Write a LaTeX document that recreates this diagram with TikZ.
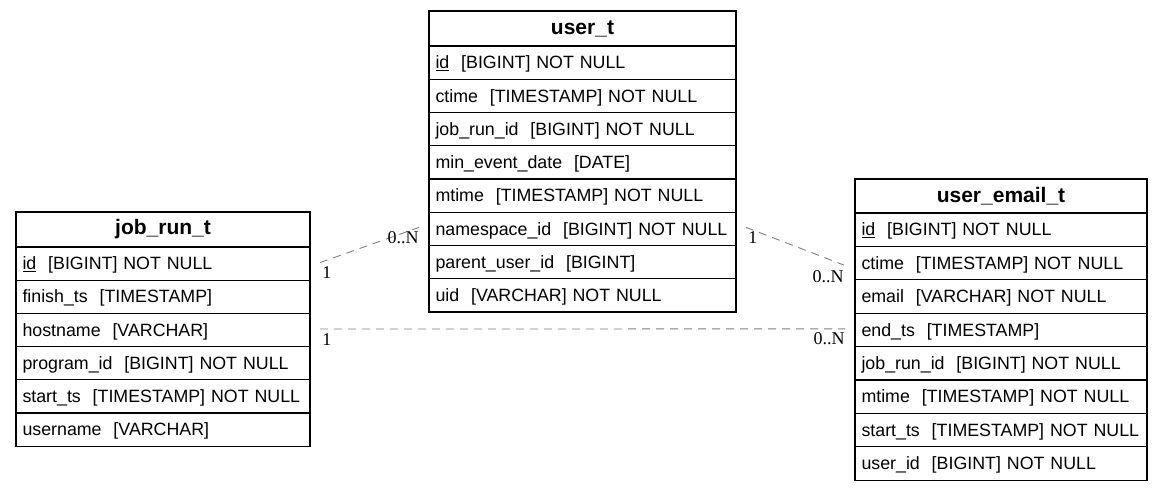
\documentclass[tikz,border=0pt]{standalone}
\usepackage{fontspec}
\setmainfont{Liberation Sans}
\newfontfamily\labfont{Liberation Serif}
\begin{document}
\begin{tikzpicture}[x=1pt,y=-1pt,
  cellbase/.style={draw, line width=1.2pt, anchor=north west, outer sep=0pt,
    inner xsep=6.5pt, inner ysep=0pt, text height=14.5pt, text depth=2.2pt,
    font=\fontsize{17.8}{20}\selectfont},
  headbase/.style={draw, line width=1.2pt, anchor=north west, outer sep=0pt,
    inner xsep=6.5pt, inner ysep=0pt, align=center,
    font=\fontsize{21}{22}\selectfont\bfseries},
  ucell/.style={cellbase, text width=294pt, align=left, minimum height=33.25pt},
  uhead/.style={headbase, text width=294pt, minimum height=35pt},
  jcell/.style={cellbase, text width=281pt, align=left, minimum height=33.2pt},
  jhead/.style={headbase, text width=281pt, minimum height=35pt},
  ecell/.style={cellbase, text width=279pt, align=left, minimum height=33.4pt},
  ehead/.style={headbase, text width=279pt, minimum height=34pt},
  rel/.style={draw=black!50, line width=0.9pt, dash pattern=on 8pt off 6pt},
  lab/.style={font=\labfont\fontsize{18}{19}\selectfont, inner sep=0pt, text=black}
]
\useasboundingbox (0,0) rectangle (1165,491);

% user_t
\node[uhead] (u-h) at (429,11) {user\_t};
\node[ucell] (u-id) at (429,46) {\underline{id}\ \ [BIGINT] NOT NULL};
\node[ucell] (u-ct) at (429,79.25) {ctime\ \ [TIMESTAMP] NOT NULL};
\node[ucell] (u-jr) at (429,112.5) {job\_run\_id\ \ [BIGINT] NOT NULL};
\node[ucell] (u-me) at (429,145.75) {min\_event\_date\ \ [DATE]};
\node[ucell] (u-mt) at (429,179) {mtime\ \ [TIMESTAMP] NOT NULL};
\node[ucell] (u-ns) at (429,212.25) {namespace\_id\ \ [BIGINT] NOT NULL};
\node[ucell] (u-pu) at (429,245.5) {parent\_user\_id\ \ [BIGINT]};
\node[ucell] (u-ui) at (429,278.75) {uid\ \ [VARCHAR] NOT NULL};

% job_run_t
\node[jhead] (j-h) at (16,212) {job\_run\_t};
\node[jcell] (j-id) at (16,247) {\underline{id}\ \ [BIGINT] NOT NULL};
\node[jcell] (j-fi) at (16,280.2) {finish\_ts\ \ [TIMESTAMP]};
\node[jcell] (j-ho) at (16,313.4) {hostname\ \ [VARCHAR]};
\node[jcell] (j-pr) at (16,346.6) {program\_id\ \ [BIGINT] NOT NULL};
\node[jcell] (j-st) at (16,379.8) {start\_ts\ \ [TIMESTAMP] NOT NULL};
\node[jcell] (j-us) at (16,413) {username\ \ [VARCHAR]};

% user_email_t
\node[ehead] (e-h) at (855,179) {user\_email\_t};
\node[ecell] (e-id) at (855,213) {\underline{id}\ \ [BIGINT] NOT NULL};
\node[ecell] (e-ct) at (855,246.4) {ctime\ \ [TIMESTAMP] NOT NULL};
\node[ecell] (e-em) at (855,279.8) {email\ \ [VARCHAR] NOT NULL};
\node[ecell] (e-en) at (855,313.2) {end\_ts\ \ [TIMESTAMP]};
\node[ecell] (e-jr) at (855,346.6) {job\_run\_id\ \ [BIGINT] NOT NULL};
\node[ecell] (e-mt) at (855,380) {mtime\ \ [TIMESTAMP] NOT NULL};
\node[ecell] (e-st) at (855,413.4) {start\_ts\ \ [TIMESTAMP] NOT NULL};
\node[ecell] (e-ui) at (855,446.8) {user\_id\ \ [BIGINT] NOT NULL};

% relations
\draw[rel] ([xshift=10pt,yshift=1pt]j-id.east) -- ([xshift=-10pt,yshift=1.5pt]u-ns.west)
  node[lab, pos=0, anchor=base west, xshift=2pt, yshift=-16pt] (l1a) {1}
  node[lab, pos=1, anchor=base east, yshift=-16pt] (l1b) {0..N};
\draw[rel] ([xshift=10pt,yshift=1.5pt]u-ns.east) -- ([xshift=-11pt,yshift=-2pt]e-ct.west)
  node[lab, pos=0, anchor=base west, xshift=2pt, yshift=-16pt] (l2a) {1}
  node[lab, pos=1, anchor=base east, yshift=-17pt] (l2b) {0..N};
\draw[rel] ([xshift=10pt,yshift=1pt]j-ho.east) -- ([xshift=-10pt,yshift=1pt]e-en.west)
  node[lab, pos=0, anchor=base west, xshift=2pt, yshift=-16pt] (l3a) {1}
  node[lab, pos=1, anchor=base east, yshift=-16pt] (l3b) {0..N};
\end{tikzpicture}
\end{document}
